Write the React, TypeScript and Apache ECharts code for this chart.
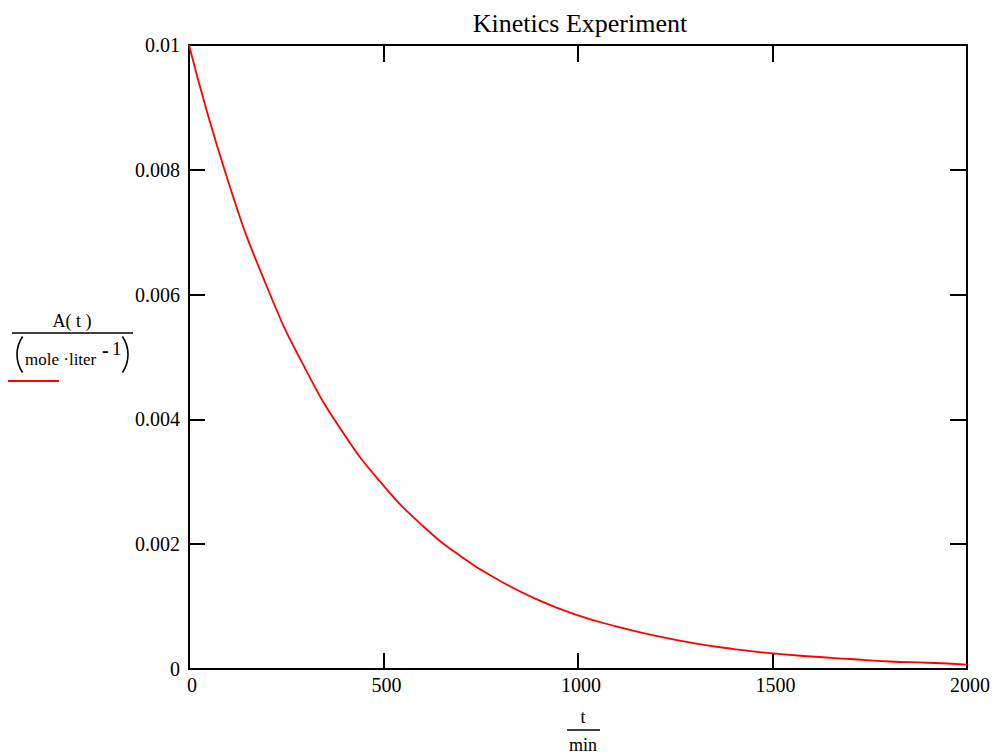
import React, { useEffect, useRef } from "react";
import * as echarts from "echarts";

const timeMin = [0, 100, 200, 300, 400, 500, 600, 700, 800, 900, 1000, 1100, 1200, 1300, 1400, 1500, 1600, 1700, 1800, 1900, 2000];
const concentration = [0.01, 0.00783, 0.00613, 0.0048, 0.00375, 0.00294, 0.0023, 0.0018, 0.00141, 0.0011, 0.00086, 0.00068, 0.00053, 0.00041, 0.00032, 0.00025, 0.0002, 0.00016, 0.00012, 0.0001, 0.00007];
const yTickLabels = ["0", "0.002", "0.004", "0.006", "0.008", "0.01"];
const xTickLabels = ["0", "500", "1000", "1500", "2000"];
const titleText = "Kinetics Experiment";

const FONT = "'Liberation Serif', 'Times New Roman', serif";

export default function App() {
  const ref = useRef<HTMLDivElement>(null);
  useEffect(() => {
    if (!ref.current) return;
    const chart = echarts.init(ref.current, null, { renderer: "svg" });
    const data = timeMin.map((t, i) => [t, concentration[i]]);
    const axisLine = { show: true, onZero: false, lineStyle: { color: "#000", width: 2 } };
    const tick = (len: number) => ({ show: true, inside: true, length: len, lineStyle: { color: "#000", width: 2 } });
    chart.setOption({
      animation: false,
      backgroundColor: "#fff",
      grid: { left: 189, top: 45, right: 28, bottom: 86, containLabel: false },
      xAxis: [
        {
          type: "value", min: 0, max: 2000, interval: 500, position: "bottom",
          axisLine, axisTick: tick(16), splitLine: { show: false },
          axisLabel: {
            color: "#000", fontFamily: FONT, fontSize: 20, margin: 6, padding: [0, 0, 0, 6],
            formatter: (v: number) => xTickLabels[Math.round(v / 500)] ?? String(v),
          },
        },
        {
          type: "value", min: 0, max: 2000, interval: 500, position: "top",
          axisLine, axisTick: tick(17), splitLine: { show: false }, axisLabel: { show: false },
        },
      ],
      yAxis: [
        {
          type: "value", min: 0, max: 0.01, interval: 0.002, position: "left",
          axisLine, axisTick: tick(16), splitLine: { show: false },
          axisLabel: {
            color: "#000", fontFamily: FONT, fontSize: 20, margin: 9, padding: [5, 0, 0, 0],
            formatter: (v: number) => yTickLabels[Math.round(v / 0.002)] ?? String(v),
          },
        },
        {
          type: "value", min: 0, max: 0.01, interval: 0.002, position: "right",
          axisLine, axisTick: tick(17), splitLine: { show: false }, axisLabel: { show: false },
        },
      ],
      series: [
        {
          type: "line", data, smooth: true, showSymbol: false, symbol: "none",
          lineStyle: { color: "#ff0000", width: 1.8 }, itemStyle: { color: "#ff0000" },
          xAxisIndex: 0, yAxisIndex: 0,
        },
      ],
      graphic: [
        { type: "text", x: 580, y: 23, style: { text: titleText, font: `26px ${FONT}`, fill: "#000", textAlign: "center", textVerticalAlign: "middle" } },
        // y-axis label fraction
        { type: "text", x: 72, y: 321, style: { text: "A( t )", font: `18px ${FONT}`, fill: "#000", textAlign: "center", textVerticalAlign: "middle" } },
        { type: "line", shape: { x1: 12, y1: 333, x2: 133, y2: 333 }, style: { stroke: "#000", lineWidth: 1.5 } },
        { type: "arc", shape: { cx: 49, cy: 354.5, r: 32, startAngle: Math.PI - 0.6, endAngle: Math.PI + 0.6 }, style: { stroke: "#000", lineWidth: 1.6, fill: "none" } },
        { type: "text", x: 25, y: 359, style: { text: "mole ·liter", font: `17px ${FONT}`, fill: "#000", textAlign: "left", textVerticalAlign: "middle" } },
        { type: "text", x: 102, y: 350, style: { text: "-", font: `bold 20px ${FONT}`, fill: "#000", textAlign: "left", textVerticalAlign: "middle" } },
        { type: "text", x: 112, y: 348, style: { text: "1", font: `19px ${FONT}`, fill: "#000", textAlign: "left", textVerticalAlign: "middle" } },
        { type: "arc", shape: { cx: 96, cy: 354.5, r: 32, startAngle: -0.6, endAngle: 0.6 }, style: { stroke: "#000", lineWidth: 1.6, fill: "none" } },
        { type: "line", shape: { x1: 8, y1: 381, x2: 59, y2: 381 }, style: { stroke: "#ff0000", lineWidth: 2 } },
        // x-axis label fraction
        { type: "text", x: 583, y: 717, style: { text: "t", font: `18px ${FONT}`, fill: "#000", textAlign: "center", textVerticalAlign: "middle" } },
        { type: "line", shape: { x1: 567, y1: 730, x2: 600, y2: 730 }, style: { stroke: "#000", lineWidth: 1.5 } },
        { type: "text", x: 583, y: 745, style: { text: "min", font: `18px ${FONT}`, fill: "#000", textAlign: "center", textVerticalAlign: "middle" } },
      ],
    });
    return () => chart.dispose();
  }, []);
  return <div ref={ref} style={{ position: "fixed", left: 0, top: 0, width: 995, height: 755 }} />;
}
